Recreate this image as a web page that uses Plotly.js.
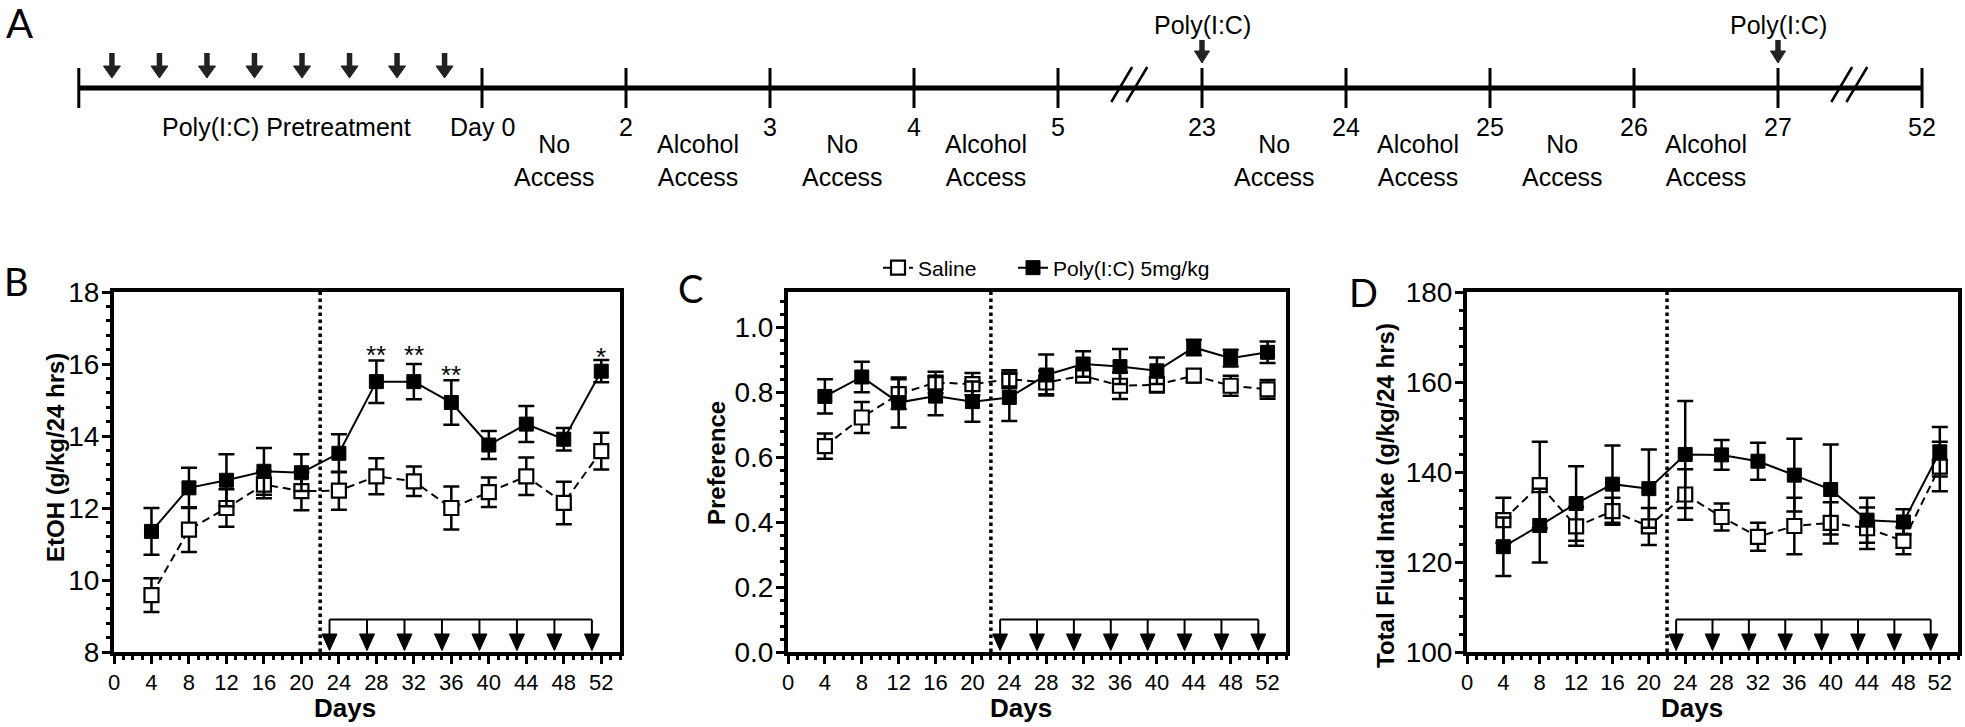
<!DOCTYPE html>
<html><head><meta charset="utf-8">
<script src="https://cdn.plot.ly/plotly-3.0.1.min.js"></script>
<style>html,body{margin:0;padding:0;background:#fff}#chart{width:1965px;height:727px}</style>
</head><body><div id="chart"></div>
<script>
// ---------------- data ----------------
const days = [4,8,12,16,20,24,28,32,36,40,44,48,52];
const seriesNames = ['Saline','Poly(I:C) 5mg/kg'];

const etohSaline    = [9.58,11.4,12.0,12.65,12.47,12.48,12.88,12.74,12.0,12.44,12.88,12.14,13.58];
const etohSalineErr = [0.47,0.62,0.52,0.38,0.53,0.53,0.5,0.41,0.6,0.41,0.52,0.59,0.51];
const etohPoly      = [11.35,12.56,12.77,13.02,12.98,13.52,15.51,15.51,14.93,13.75,14.33,13.91,15.8];
const etohPolyErr   = [0.65,0.56,0.72,0.65,0.51,0.53,0.59,0.49,0.62,0.39,0.5,0.31,0.31];

const prefSaline    = [0.635,0.723,0.795,0.831,0.826,0.841,0.831,0.852,0.821,0.824,0.852,0.821,0.81];
const prefSalineErr = [0.039,0.048,0.046,0.033,0.034,0.028,0.036,0.015,0.041,0.024,0.02,0.031,0.029];
const prefPoly      = [0.788,0.848,0.769,0.789,0.772,0.785,0.854,0.888,0.88,0.867,0.939,0.906,0.924];
const prefPolyErr   = [0.053,0.047,0.077,0.059,0.062,0.073,0.063,0.039,0.054,0.041,0.024,0.026,0.033];

const fluidSaline    = [129.3,137.1,127.9,131.3,127.9,135.0,130.0,125.6,128.0,128.7,127.5,124.7,141.2];
const fluidSalineErr = [5.0,9.6,4.3,3.0,4.1,5.6,3.0,3.1,6.3,4.6,4.6,3.0,5.5];
const fluidPoly      = [123.4,128.1,133.0,137.3,136.3,143.9,143.8,142.4,139.3,136.1,129.3,128.9,144.5];
const fluidPolyErr   = [6.5,8.2,8.3,8.6,8.7,11.9,3.3,4.1,8.1,10.0,5.0,2.8,5.5];

const sigDays   = [28,32,36,52];
const sigLabels = ['**','**','**','*'];
const sigY      = [16.42,16.42,15.86,16.37];

const injectionDays   = [23,27,31,35,39,43,47,51];
const accessSwitchDay = 22;

// timeline (panel A)
const timelineTicks   = ['Day 0','2','3','4','5','23','24','25','26','27','52'];
const timelinePeriods = ['No<br>Access','Alcohol<br>Access','No<br>Access','Alcohol<br>Access','',
                         'No<br>Access','Alcohol<br>Access','No<br>Access','Alcohol<br>Access'];
const timelineBreaksAfter = ['5','27'];
const timelineInjections  = ['23','27'];
const pretreatLabel = 'Poly(I:C) Pretreatment';
const pretreatStart = -2.8;
const pretreatInjections = [-2.57,-2.24,-1.91,-1.58,-1.25,-0.92,-0.59,-0.26];

// ---------------- layout helpers ----------------
const W = 1965, H = 727;
const fx = p => p / W;
const fy = p => 1 - p / H;
const FONT = 'Liberation Sans, Arial, sans-serif';
const LETTER_FONT = 'Lato, Open Sans, sans-serif';

const panels = [
  {key:'', x0:114, x1:620, range:[8,18], dtick:2, minor:0.4, fmt:'', sal:etohSaline, salE:etohSalineErr, pol:etohPoly, polE:etohPolyErr,
   ytitle:'EtOH (g/kg/24 hrs)', yt:[55,458], days:[345,708], letter:['B',16,281]},
  {key:'2', x0:788, x1:1286, range:[0,1.11], dtick:0.2, minor:0.04, fmt:'.1f', sal:prefSaline, salE:prefSalineErr, pol:prefPoly, polE:prefPolyErr,
   ytitle:'Preference', yt:[716,463], days:[1021,708], letter:['C',690,288]},
  {key:'3', x0:1467, x1:1958, range:[100,180], dtick:20, minor:4, fmt:'', sal:fluidSaline, salE:fluidSalineErr, pol:fluidPoly, polE:fluidPolyErr,
   ytitle:'Total Fluid Intake (g/kg/24 hrs)', yt:[1385,496], days:[1692,708], letter:['D',1363,292]}
];
const PTOP = 292, PBOT = 652;

const data = [];
const shapes = [];
const annotations = [];
const legendBase = {orientation:'h', y: fy(268), xanchor:'left', yanchor:'middle',
                    font:{family: FONT, size: 21, color:'#000'}, itemwidth: 30, bgcolor:'rgba(0,0,0,0)'};
const layout = {
  width: W, height: H,
  margin: {l:0, r:0, t:0, b:0},
  paper_bgcolor: '#fff', plot_bgcolor: '#fff',
  font: {family: FONT, color: '#000'},
  showlegend: true,
  legend: Object.assign({}, legendBase, {x: fx(878)}),
  legend2: Object.assign({}, legendBase, {x: fx(1013)}),
  shapes: shapes, annotations: annotations
};

panels.forEach((p, i) => {
  const xa = 'xaxis' + p.key, ya = 'yaxis' + p.key;
  const xr = 'x' + p.key, yr = 'y' + p.key;
  layout[xa] = {
    domain:[fx(p.x0), fx(p.x1)], anchor: yr, range:[0,54], tick0:0, dtick:4,
    ticks:'outside', ticklen:8, tickwidth:3, tickcolor:'#000',
    showline:true, linewidth:4, linecolor:'#000', mirror:true,
    showgrid:false, zeroline:false, fixedrange:true,
    tickfont:{family:FONT, size:22, color:'#000'},
    minor:{dtick:1, ticks:'outside', ticklen:4, tickwidth:3, tickcolor:'#000', showgrid:false}
  };
  layout[ya] = {
    domain:[fy(PBOT), fy(PTOP)], anchor: xr, range:p.range, tick0:p.range[0], dtick:p.dtick,
    tickformat:p.fmt, ticks:'outside', ticklen:8, tickwidth:3, tickcolor:'#000', ticklabelstandoff:-3,
    showline:true, linewidth:4, linecolor:'#000', mirror:true,
    showgrid:false, zeroline:false, fixedrange:true,
    tickfont:{family:FONT, size:28, color:'#000'},
    minor:{dtick:p.minor, ticks:'outside', ticklen:4, tickwidth:3, tickcolor:'#000', showgrid:false}
  };
  const legendShown = (i === 1);
  data.push({
    type:'scatter', mode:'lines+markers', name:seriesNames[0], x:days, y:p.sal,
    xaxis:xr, yaxis:yr, showlegend:legendShown, legend:'legend', cliponaxis:false,
    line:{color:'#000', width:2, dash:'8px,5px'},
    marker:{symbol:'square', size:14, color:'#fff', line:{color:'#000', width:2.2}},
    error_y:{type:'data', array:p.salE, visible:true, color:'#000', thickness:2.5, width:8}
  });
  data.push({
    type:'scatter', mode:'lines+markers', name:seriesNames[1], x:days, y:p.pol,
    xaxis:xr, yaxis:yr, showlegend:legendShown, legend:'legend2', cliponaxis:false,
    line:{color:'#000', width:2},
    marker:{symbol:'square', size:14, color:'#000', line:{color:'#000', width:1}},
    error_y:{type:'data', array:p.polE, visible:true, color:'#000', thickness:2.5, width:8}
  });
  // dotted separator
  shapes.push({type:'line', xref:xr, yref:yr+' domain', x0:accessSwitchDay, x1:accessSwitchDay, y0:0, y1:1,
               line:{color:'#000', width:3.5, dash:'dot'}});
  // injection bracket
  const bY = 0.09, headH = 0.05, headW = 0.8;
  shapes.push({type:'line', xref:xr, yref:yr+' domain', x0:injectionDays[0], x1:injectionDays[injectionDays.length-1],
               y0:bY, y1:bY, line:{color:'#000', width:2}});
  injectionDays.forEach(d => {
    shapes.push({type:'line', xref:xr, yref:yr+' domain', x0:d, x1:d, y0:bY, y1:headH, line:{color:'#000', width:2}});
    shapes.push({type:'path', xref:xr, yref:yr+' domain',
                 path:`M${d-headW},${headH} L${d+headW},${headH} L${d},0.004 Z`,
                 fillcolor:'#000', line:{color:'#000', width:1}});
  });
  // titles
  annotations.push({xref:'paper', yref:'paper', x:fx(p.yt[0]), y:fy(p.yt[1]), text:'<b>'+p.ytitle+'</b>',
                    textangle:-90, showarrow:false, xanchor:'center', yanchor:'middle',
                    font:{family:FONT, size:24, color:'#000'}});
  annotations.push({xref:'paper', yref:'paper', x:fx(p.days[0]), y:fy(p.days[1]), text:'<b>Days</b>',
                    showarrow:false, xanchor:'center', yanchor:'middle', font:{family:FONT, size:26, color:'#000'}});
  annotations.push({xref:'paper', yref:'paper', x:fx(p.letter[1]), y:fy(p.letter[2]), text:p.letter[0],
                    showarrow:false, xanchor:'center', yanchor:'middle', font:{family:LETTER_FONT, size:38, color:'#000'}});
});

// significance marks (panel B)
sigDays.forEach((d, k) => {
  annotations.push({xref:'x', yref:'y', x:d, y:sigY[k], text:sigLabels[k], showarrow:false,
                    xanchor:'center', yanchor:'middle', yshift:-6, font:{family:FONT, size:26, color:'#000'}});
});

// ---------------- panel A timeline ----------------
const PX_PER_STEP = 144, DAY0_PX = 482;
layout.xaxis4 = {domain:[0,1], anchor:'y4', range:[-DAY0_PX/PX_PER_STEP, (W-DAY0_PX)/PX_PER_STEP],
                 visible:false, fixedrange:true};
layout.yaxis4 = {domain:[fy(200), 1], anchor:'x4', range:[0,1], visible:false, fixedrange:true};
data.push({type:'scatter', x:[], y:[], xaxis:'x4', yaxis:'y4', showlegend:false, hoverinfo:'skip'});

const TL_FONT = {family:FONT, size:25, color:'#000'};
const lineY = fy(88);
shapes.push({type:'line', xref:'x4', yref:'paper', x0:pretreatStart, x1:timelineTicks.length-1, y0:lineY, y1:lineY,
             line:{color:'#000', width:5}});
const tickIdx = [pretreatStart].concat(timelineTicks.map((t, i) => i));
tickIdx.forEach(t => {
  shapes.push({type:'line', xref:'x4', yref:'paper', x0:t, x1:t, y0:fy(68), y1:fy(108), line:{color:'#000', width:3}});
});
timelineTicks.forEach((t, i) => {
  annotations.push({xref:'x4', yref:'paper', x:i, y:fy(127), text:t, showarrow:false, xanchor:'center', yanchor:'middle',
                    font:TL_FONT});
});
timelinePeriods.forEach((t, i) => {
  if (!t) return;
  annotations.push({xref:'x4', yref:'paper', x:i+0.5, y:fy(161), text:t, showarrow:false, xanchor:'center', yanchor:'middle',
                    font:TL_FONT});
});
annotations.push({xref:'x4', yref:'paper', x:pretreatStart/2 + 0.04, y:fy(127), text:pretreatLabel, showarrow:false,
                  xanchor:'center', yanchor:'middle', font:TL_FONT});

function downArrow(x, yTop, yTip, headLen, halfW) {
  shapes.push({type:'line', xref:'x4', yref:'paper', x0:x, x1:x, y0:fy(yTop), y1:fy(yTip-headLen+1),
               line:{color:'#222', width:5.5}});
  const hw = halfW / PX_PER_STEP;
  shapes.push({type:'path', xref:'x4', yref:'paper',
               path:`M${x-hw},${fy(yTip-headLen)} L${x+hw},${fy(yTip-headLen)} L${x},${fy(yTip)} Z`,
               fillcolor:'#222', line:{color:'#222', width:1}});
}
pretreatInjections.forEach(x => downArrow(x, 53, 78, 12, 8.5));
timelineInjections.forEach(lbl => {
  const i = timelineTicks.indexOf(lbl);
  downArrow(i, 40, 63, 12, 7.5);
  annotations.push({xref:'x4', yref:'paper', x:i, y:fy(25), text:'Poly(I:C)', showarrow:false,
                    xanchor:'center', yanchor:'middle', font:TL_FONT});
});
timelineBreaksAfter.forEach(lbl => {
  const c = timelineTicks.indexOf(lbl) + 0.5;
  [[-0.13, 0.015], [-0.025, 0.12]].forEach(o => {
    shapes.push({type:'line', xref:'x4', yref:'paper', x0:c+o[0], x1:c+o[1], y0:fy(102), y1:fy(67),
                 line:{color:'#000', width:2.5}});
  });
});
annotations.push({xref:'paper', yref:'paper', x:fx(19), y:fy(23), text:'A', showarrow:false,
                  xanchor:'center', yanchor:'middle', font:{family:LETTER_FONT, size:40, color:'#000'}});

Plotly.newPlot('chart', data, layout, {staticPlot:true, displayModeBar:false});
</script>
</body></html>
